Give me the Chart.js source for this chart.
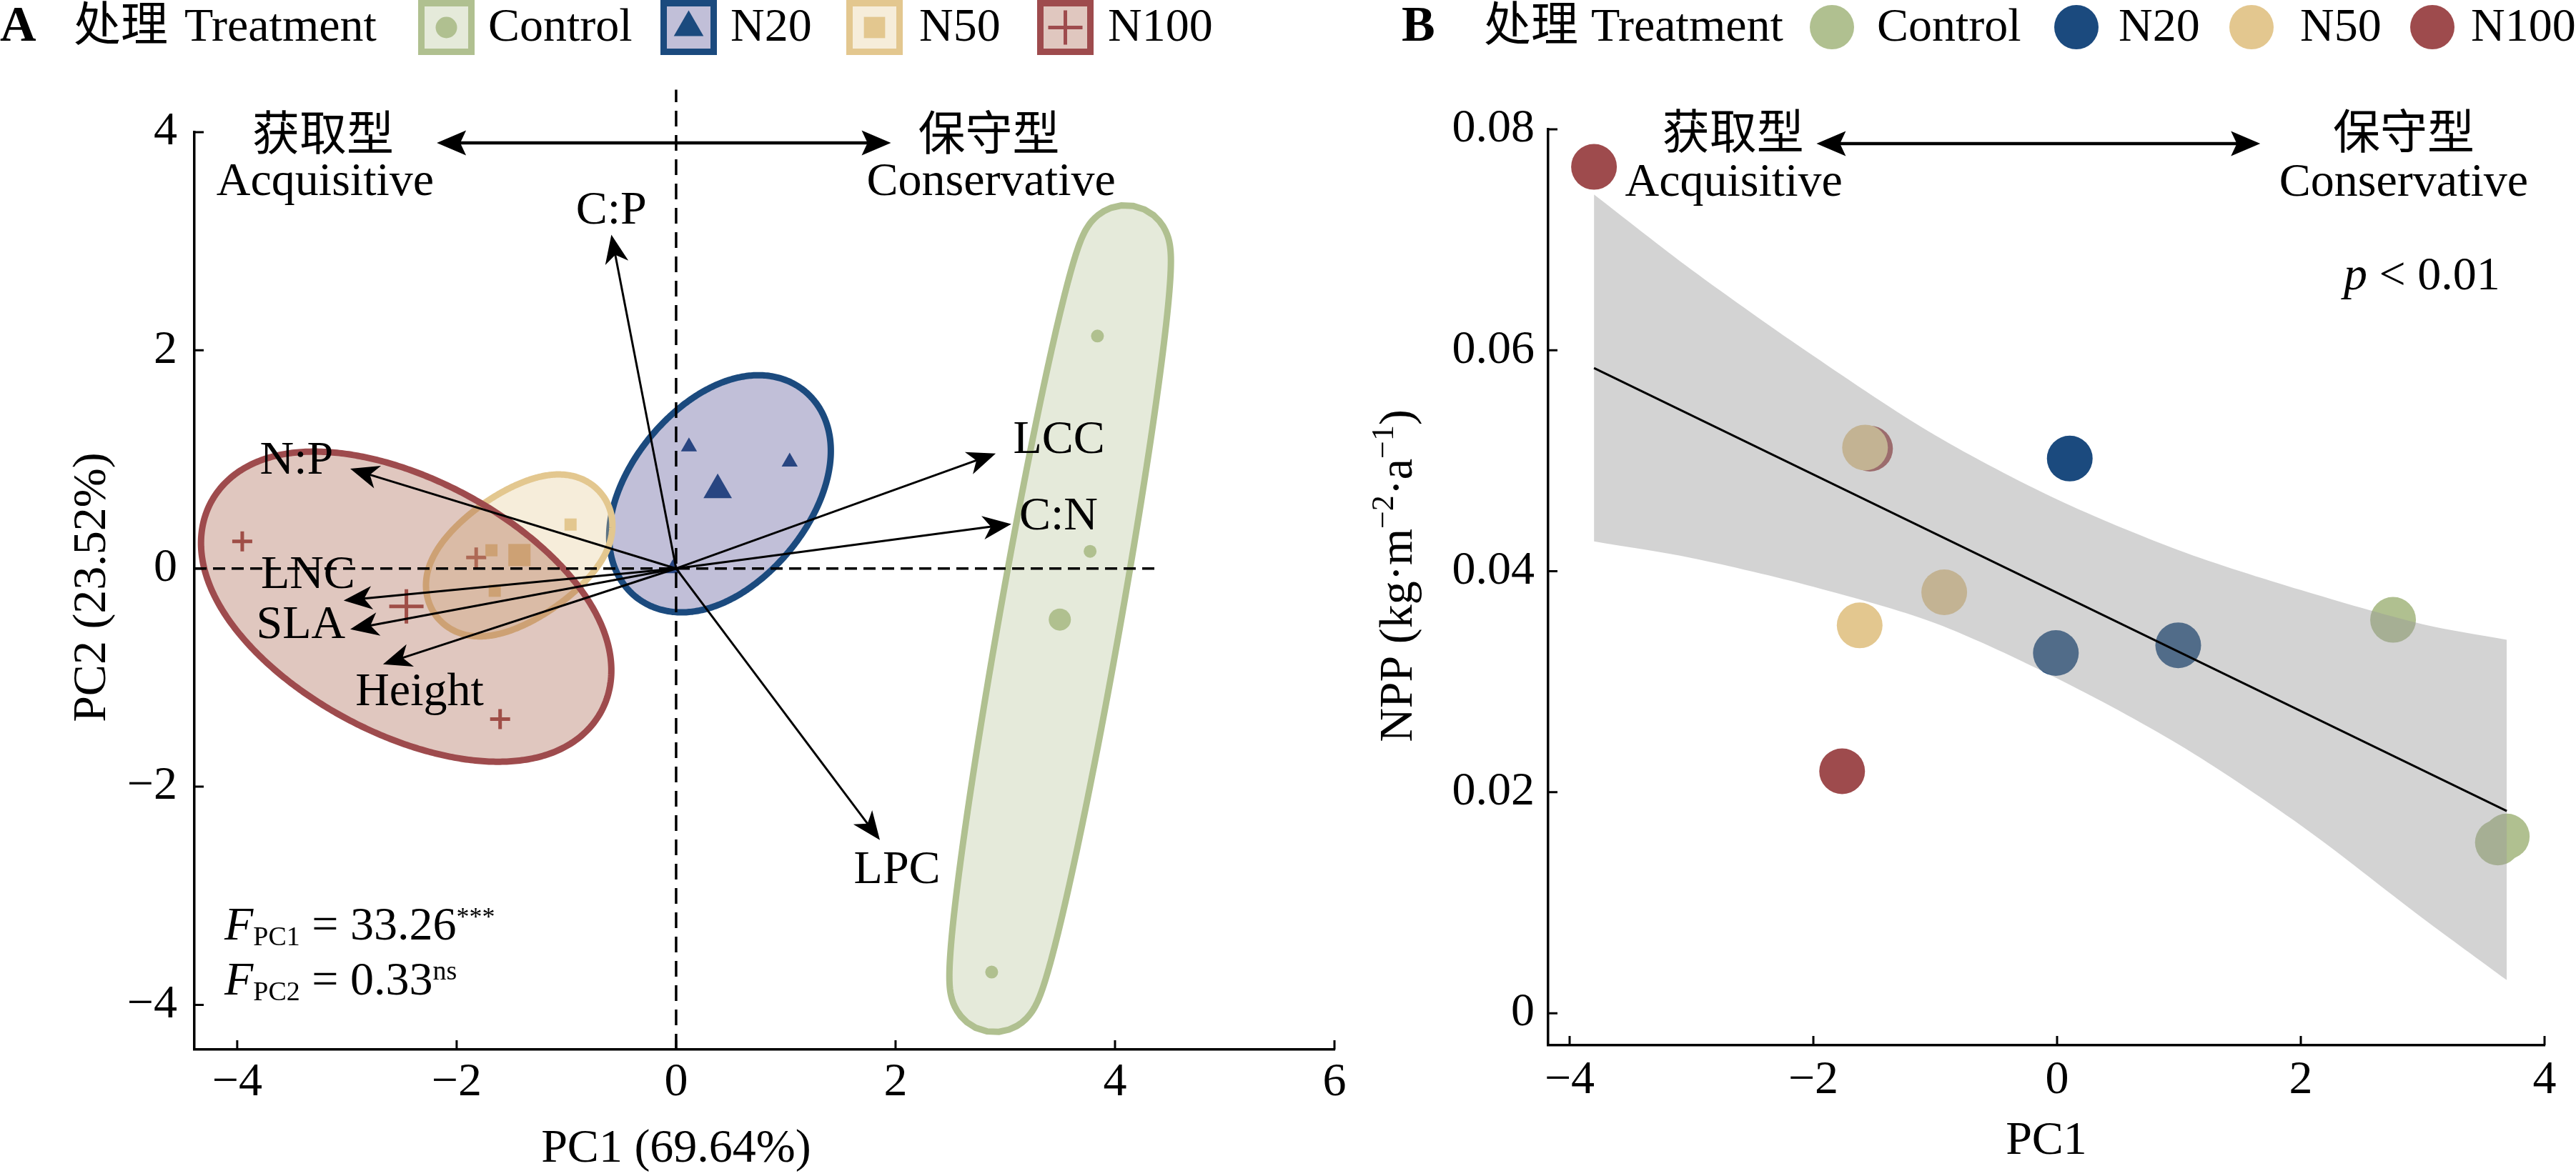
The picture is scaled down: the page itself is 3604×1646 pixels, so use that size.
<!DOCTYPE html>
<html><head><meta charset="utf-8">
<script src="https://cdn.jsdelivr.net/npm/chart.js@4.4.1/dist/chart.umd.min.js"></script>
<style>
html,body{margin:0;padding:0;background:#fff;width:3604px;height:1646px;overflow:hidden}
#wa{position:absolute;left:0;top:0;width:1900px;height:1646px}
#wb{position:absolute;left:1900px;top:0;width:1704px;height:1646px}
canvas{display:block}
</style></head><body>
<div id="wa"><canvas id="ca"></canvas></div>
<div id="wb"><canvas id="cb"></canvas></div>
<script>
// ---------------- DATA ----------------
const groups = ['Control', 'N20', 'N50', 'N100'];
const groupColors = ['#b0c090', '#1b4a7e', '#e3c78f', '#9e4b4d'];
const groupFills = ['#b0c090', '#433d89', '#e3c78f', '#a1553c'];

// Panel A: PCA sample scores
const ctrlPC1 = [3.84, 3.773, 2.876];
const ctrlPC2 = [2.131, 0.157, -3.70];
const n20PC1 = [0.117, 1.035, -0.03];
const n20PC2 = [1.116, 0.978, 0.0];
const n50PC1 = [-0.962, -1.683, -1.653];
const n50PC2 = [0.403, 0.167, -0.204];
const n100PC1 = [-3.954, -1.822, -1.604];
const n100PC2 = [0.248, 0.101, -1.381];
// group centroids (Control, N20, N50, N100)
const centroidPC1 = [3.497, 0.379, -1.428, -2.458];
const centroidPC2 = [-0.468, 0.72, 0.123, -0.347];

// Panel A: trait loadings (arrow tips)
const traitNames = ['C:P', 'N:P', 'LNC', 'SLA', 'Height', 'LCC', 'C:N', 'LPC'];
const traitPC1 = [-0.59, -2.97, -3.03, -2.97, -2.671, 2.913, 3.055, 1.857];
const traitPC2 = [3.06, 0.915, -0.293, -0.557, -0.878, 1.055, 0.408, -2.49];
// label anchors for trait names
const traitLabelPC1 = [-0.591, -3.459, -3.355, -3.42, -2.338, 3.49, 3.485, 2.014];
const traitLabelPC2 = [3.273, 0.981, -0.067, -0.525, -1.141, 1.171, 0.47, -2.771];

// Panel A: group ellipses (core ellipse, expanded outward)
const ellipseCX = [3.50, 0.40, -1.43, -2.46];
const ellipseCY = [-0.46, 0.685, 0.12, -0.35];
const ellipseA = [3.45, 0.826, 0.548, 1.63];
const ellipseB = [0.16, 0.43, 0.183, 0.77];
const ellipseAngle = [80, 50.7, 35.3, -28.4];
const ellipseExpand = 0.39;

// Panel B: PC1 vs NPP
const bCtrlPC1 = [2.757, 3.617, 3.69];
const bCtrlNPP = [0.0356, 0.01545, 0.0160];
const bN20PC1 = [0.104, -0.01, 0.994];
const bN20NPP = [0.0502, 0.0326, 0.0333];
const bN50PC1 = [-1.576, -0.926, -1.62];
const bN50NPP = [0.0512, 0.0381, 0.0351];
const bN100PC1 = [-3.80, -1.535, -1.764];
const bN100NPP = [0.0766, 0.0511, 0.0219];
const fitPC1 = [-3.80, 3.69];
const fitNPP = [0.0584, 0.0183];
const bandPC1 = [-3.8, -3, -2, -1, 0, 1, 2, 3, 3.69];
const bandUpper = [0.0741, 0.0673, 0.0595, 0.0523, 0.0465, 0.0419, 0.0383, 0.0352, 0.0338];
const bandLower = [0.0427, 0.0412, 0.0386, 0.0353, 0.0303, 0.0243, 0.0170, 0.0086, 0.0030];

// tick labels
const xTicksA = [-4, -2, 0, 2, 4, 6];
const yTicksA = [-4, -2, 0, 2, 4];
const xTicksB = [-4, -2, 0, 2, 4];
const yTicksB = [0, 0.02, 0.04, 0.06, 0.08];

// ---------------- HELPERS ----------------
const SERIF = '"Liberation Serif", "Times New Roman", serif';
const CJK = '"Noto Sans CJK SC", "Noto Sans CJK JP", sans-serif';
const FS = 66;
function rgba(hex, a) { const n = parseInt(hex.slice(1), 16); return `rgba(${n >> 16},${(n >> 8) & 255},${n & 255},${a})`; }
function pts(xs, ys) { return xs.map((x, i) => ({ x: x, y: ys[i] })); }
function fmtNum(v) { return v < 0 ? '\u2212' + Math.abs(v) : String(v); }

function drawMarker(ctx, style, x, y, r, color, lw) {
  ctx.save();
  ctx.fillStyle = color; ctx.strokeStyle = color; ctx.lineWidth = lw || 5;
  ctx.beginPath();
  if (style === 'circle') { ctx.arc(x, y, r, 0, 2 * Math.PI); ctx.fill(); }
  else if (style === 'triangle') {
    for (let k = 0; k < 3; k++) { const a = k * 2 * Math.PI / 3; const px = x + Math.sin(a) * r, py = y - Math.cos(a) * r; if (k) ctx.lineTo(px, py); else ctx.moveTo(px, py); }
    ctx.closePath(); ctx.fill();
  } else if (style === 'rect') { const s = r * Math.SQRT1_2; ctx.rect(x - s, y - s, 2 * s, 2 * s); ctx.fill(); }
  else if (style === 'cross') { ctx.moveTo(x - r, y); ctx.lineTo(x + r, y); ctx.moveTo(x, y - r); ctx.lineTo(x, y + r); ctx.stroke(); }
  ctx.restore();
}
function arrowHead(ctx, tx, ty, ux, uy, len, half, notch) {
  const bx = tx + ux * len, by = ty + uy * len, px = -uy, py = ux;
  ctx.beginPath();
  ctx.moveTo(tx, ty);
  ctx.lineTo(bx + px * half, by + py * half);
  ctx.lineTo(tx + ux * len * notch, ty + uy * len * notch);
  ctx.lineTo(bx - px * half, by - py * half);
  ctx.closePath(); ctx.fill();
}
function drawArrow(ctx, x0, y0, x1, y1, lw, len, half, notch) {
  const dx = x1 - x0, dy = y1 - y0, L = Math.hypot(dx, dy), ux = -dx / L, uy = -dy / L;
  ctx.lineWidth = lw; ctx.beginPath(); ctx.moveTo(x0, y0);
  ctx.lineTo(x1 + ux * len * notch * 0.9, y1 + uy * len * notch * 0.9); ctx.stroke();
  arrowHead(ctx, x1, y1, ux, uy, len, half, notch);
}
function drawDoubleArrow(ctx, x0, y, x1, lw, len, half, notch) {
  ctx.lineWidth = lw; ctx.beginPath(); ctx.moveTo(x0 + len * 0.6, y); ctx.lineTo(x1 - len * 0.6, y); ctx.stroke();
  arrowHead(ctx, x0, y, 1, 0, len, half, notch);
  arrowHead(ctx, x1, y, -1, 0, len, half, notch);
}
function richWidth(ctx, parts) { let w = 0; for (const p of parts) { ctx.font = p.font; w += ctx.measureText(p.t).width; } return w; }
function drawRich(ctx, parts, x, y) {
  let cx = x; ctx.textAlign = 'left'; ctx.textBaseline = 'alphabetic';
  for (const p of parts) { ctx.font = p.font; ctx.fillText(p.t, cx, y + (p.dy || 0)); cx += ctx.measureText(p.t).width; }
}
function text(ctx, t, x, y, font, align, base) {
  ctx.font = font; ctx.textAlign = align || 'center'; ctx.textBaseline = base || 'middle'; ctx.fillText(t, x, y);
}
function drawInwardTicks(chart) {
  const { ctx, chartArea, scales: { x, y } } = chart;
  ctx.save(); ctx.strokeStyle = '#000'; ctx.lineWidth = 3; ctx.beginPath();
  x.ticks.forEach(t => { const px = x.getPixelForValue(t.value); ctx.moveTo(px, chartArea.bottom); ctx.lineTo(px, chartArea.bottom - 13); });
  y.ticks.forEach(t => { const py = y.getPixelForValue(t.value); ctx.moveTo(chartArea.left, py); ctx.lineTo(chartArea.left + 13, py); });
  ctx.stroke(); ctx.restore();
}
function makeScale(min, max, tickArr, fit, isX, pad, fmt) {
  const s = {
    type: 'linear', min: min, max: max,
    afterBuildTicks: sc => { sc.ticks = tickArr.map(v => ({ value: v })); },
    grid: { display: false, drawTicks: false },
    border: { display: true, color: '#000', width: 3.5 },
    ticks: { font: { family: SERIF, size: FS, lineHeight: 1 }, color: '#000', padding: pad, maxRotation: 0, autoSkip: false, callback: fmt }
  };
  if (isX) s.afterFit = sc => { sc.height = fit; }; else s.afterFit = sc => { sc.width = fit; };
  return s;
}

// ---------------- PANEL A ----------------
function drawShape(chart, i) {
  const { ctx, scales: { x: xs, y: ys } } = chart;
  const th = ellipseAngle[i] * Math.PI / 180, N = 480, core = [];
  for (let k = 0; k < N; k++) {
    const t = 2 * Math.PI * k / N;
    const dx = ellipseA[i] * Math.cos(th) * Math.cos(t) - ellipseB[i] * Math.sin(th) * Math.sin(t);
    const dy = ellipseA[i] * Math.sin(th) * Math.cos(t) + ellipseB[i] * Math.cos(th) * Math.sin(t);
    core.push([xs.getPixelForValue(ellipseCX[i] + dx), ys.getPixelForValue(ellipseCY[i] + dy)]);
  }
  const cx = xs.getPixelForValue(ellipseCX[i]), cy = ys.getPixelForValue(ellipseCY[i]);
  const d = ellipseExpand * Math.abs(xs.getPixelForValue(1) - xs.getPixelForValue(0));
  ctx.beginPath();
  for (let k = 0; k < N; k++) {
    const p = core[(k - 1 + N) % N], n = core[(k + 1) % N];
    let tx = n[0] - p[0], ty = n[1] - p[1]; const L = Math.hypot(tx, ty) || 1;
    let nx = ty / L, ny = -tx / L;
    if ((core[k][0] - cx) * nx + (core[k][1] - cy) * ny < 0) { nx = -nx; ny = -ny; }
    const X = core[k][0] + nx * d, Y = core[k][1] + ny * d;
    if (k) ctx.lineTo(X, Y); else ctx.moveTo(X, Y);
  }
  ctx.closePath();
  ctx.fillStyle = rgba(groupFills[i], 0.33); ctx.fill();
  ctx.strokeStyle = groupColors[i]; ctx.lineWidth = 9; ctx.stroke();
}

const styleA = ['circle', 'triangle', 'rect', 'cross'];
const smallR = [9, 13, 12, 14];
const bigR = [15.5, 23, 22, 24];
const groupPC1 = [ctrlPC1, n20PC1, n50PC1, n100PC1];
const groupPC2 = [ctrlPC2, n20PC2, n50PC2, n100PC2];
const dsA = [];
groups.forEach((g, i) => {
  const base = { pointStyle: styleA[i], backgroundColor: groupColors[i], borderColor: groupColors[i], borderWidth: i === 3 ? 5 : 0, pointHoverRadius: 0 };
  dsA.push(Object.assign({ label: g, data: pts(groupPC1[i], groupPC2[i]), pointRadius: smallR[i] }, base));
  dsA.push(Object.assign({ label: g + ' centroid', data: [{ x: centroidPC1[i], y: centroidPC2[i] }], pointRadius: bigR[i] }, base));
});

const pluginA = {
  id: 'panelA',
  afterDatasetsDraw(chart) {
    const { ctx, chartArea, scales: { x: xs, y: ys } } = chart;
    ctx.save();
    for (let i = 0; i < 4; i++) drawShape(chart, i);
    // reference dashed lines
    ctx.strokeStyle = '#000'; ctx.lineWidth = 3.5;
    ctx.setLineDash([22, 12]); ctx.beginPath();
    ctx.moveTo(xs.getPixelForValue(0), chartArea.bottom); ctx.lineTo(xs.getPixelForValue(0), ys.getPixelForValue(4.39)); ctx.stroke();
    ctx.setLineDash([17, 9]); ctx.beginPath();
    ctx.moveTo(chartArea.left, ys.getPixelForValue(0)); ctx.lineTo(xs.getPixelForValue(4.38), ys.getPixelForValue(0)); ctx.stroke();
    ctx.setLineDash([]);
    // loadings
    ctx.fillStyle = '#000'; ctx.strokeStyle = '#000';
    const ox = xs.getPixelForValue(0), oy = ys.getPixelForValue(0);
    traitNames.forEach((n, i) => {
      drawArrow(ctx, ox, oy, xs.getPixelForValue(traitPC1[i]), ys.getPixelForValue(traitPC2[i]), 3, 40, 16.5, 0.72);
      text(ctx, n, xs.getPixelForValue(traitLabelPC1[i]), ys.getPixelForValue(traitLabelPC2[i]), `${FS}px ${SERIF}`);
    });
    // strategy annotation
    text(ctx, '获取型', xs.getPixelForValue(-3.218), ys.getPixelForValue(4.0), `${FS}px ${CJK}`);
    text(ctx, 'Acquisitive', xs.getPixelForValue(-3.198), ys.getPixelForValue(3.538), `${FS}px ${SERIF}`);
    text(ctx, '保守型', xs.getPixelForValue(2.851), ys.getPixelForValue(4.0), `${FS}px ${CJK}`);
    text(ctx, 'Conservative', xs.getPixelForValue(2.871), ys.getPixelForValue(3.538), `${FS}px ${SERIF}`);
    drawDoubleArrow(ctx, xs.getPixelForValue(-2.181), ys.getPixelForValue(3.902), xs.getPixelForValue(1.958), 4.5, 41, 17.5, 0.8);
    // F statistics
    const sub = `38px ${SERIF}`, main = `${FS}px ${SERIF}`, it = `italic ${FS}px ${SERIF}`;
    drawRich(ctx, [{ t: 'F', font: it }, { t: 'PC1', font: sub, dy: 8 }, { t: ' = 33.26', font: main }, { t: '***', font: `36px ${SERIF}`, dy: -20 }], 314, 1315);
    drawRich(ctx, [{ t: 'F', font: it }, { t: 'PC2', font: sub, dy: 8 }, { t: ' = 0.33', font: main }, { t: 'ns', font: sub, dy: -21 }], 314, 1392);
    ctx.restore();
  },
  afterDraw(chart) {
    const { ctx } = chart;
    drawInwardTicks(chart);
    ctx.save(); ctx.fillStyle = '#000';
    // axis titles
    text(ctx, 'PC1 (69.64%)', 946, 1609, `${FS}px ${SERIF}`);
    ctx.save(); ctx.translate(130, 822); ctx.rotate(-Math.PI / 2);
    text(ctx, 'PC2 (23.52%)', 0, 0, `${FS}px ${SERIF}`); ctx.restore();
    // legend
    text(ctx, 'A', 0, 57, `bold 70px ${SERIF}`, 'left', 'alphabetic');
    text(ctx, '处理', 103, 57, `${FS}px ${CJK}`, 'left', 'alphabetic');
    text(ctx, 'Treatment', 258, 57, `${FS}px ${SERIF}`, 'left', 'alphabetic');
    const boxX = [585, 924, 1184, 1451], txtX = [683, 1022, 1286, 1550], legR = [15, 24, 21, 24];
    groups.forEach((g, i) => {
      ctx.fillStyle = '#fff'; ctx.fillRect(boxX[i], 0, 79, 77);
      ctx.fillStyle = rgba(groupFills[i], 0.33); ctx.fillRect(boxX[i], 0, 79, 77);
      ctx.strokeStyle = groupColors[i]; ctx.lineWidth = 9; ctx.strokeRect(boxX[i] + 4.5, 4.5, 70, 68);
      drawMarker(ctx, styleA[i], boxX[i] + 39.5, 38.5, legR[i], groupColors[i], 5);
      ctx.fillStyle = '#000';
      text(ctx, g, txtX[i], 57, `${FS}px ${SERIF}`, 'left', 'alphabetic');
    });
    ctx.restore();
  }
};

new Chart(document.getElementById('ca'), {
  type: 'scatter',
  data: { datasets: dsA },
  options: {
    responsive: true, maintainAspectRatio: false, animation: false, events: [],
    layout: { padding: { left: 0, right: 33, top: 185, bottom: 0 } },
    plugins: { legend: { display: false }, tooltip: { enabled: false } },
    scales: {
      x: makeScale(-4.39, 6, xTicksA, 177, true, 14, fmtNum),
      y: makeScale(-4.41, 4, yTicksA, 272, false, 24, fmtNum)
    }
  },
  plugins: [pluginA]
});

// ---------------- PANEL B ----------------
const bPC1 = [bCtrlPC1, bN20PC1, bN50PC1, bN100PC1];
const bNPP = [bCtrlNPP, bN20NPP, bN50NPP, bN100NPP];
const pointOrder = [3, 3, 3, 4];
const dsB = [
  { type: 'line', label: 'fit', data: pts(fitPC1, fitNPP), borderColor: '#000', borderWidth: 3, pointRadius: 0, fill: false, order: 1 },
  { type: 'line', label: 'CI lower', data: pts(bandPC1, bandLower), borderColor: 'rgba(0,0,0,0)', borderWidth: 1, pointRadius: 0, tension: 0.3, fill: false, order: 2 },
  { type: 'line', label: 'CI upper', data: pts(bandPC1, bandUpper), borderColor: 'rgba(0,0,0,0)', borderWidth: 1, pointRadius: 0, tension: 0.3, fill: { target: 1 }, backgroundColor: 'rgba(153,153,153,0.43)', order: 2 }
];
groups.forEach((g, i) => dsB.push({ label: g, data: pts(bPC1[i], bNPP[i]), pointStyle: 'circle', pointRadius: 32, pointHoverRadius: 0, backgroundColor: groupColors[i], borderWidth: 0, order: pointOrder[i] }));

const pluginB = {
  id: 'panelB',
  afterDatasetsDraw(chart) {
    const { ctx, scales: { x: xs, y: ys } } = chart;
    ctx.save(); ctx.fillStyle = '#000'; ctx.strokeStyle = '#000';
    text(ctx, '获取型', xs.getPixelForValue(-2.659), ys.getPixelForValue(0.0799), `${FS}px ${CJK}`);
    text(ctx, 'Acquisitive', xs.getPixelForValue(-2.653), ys.getPixelForValue(0.0751), `${FS}px ${SERIF}`);
    text(ctx, '保守型', xs.getPixelForValue(2.844), ys.getPixelForValue(0.0799), `${FS}px ${CJK}`);
    text(ctx, 'Conservative', xs.getPixelForValue(2.844), ys.getPixelForValue(0.0751), `${FS}px ${SERIF}`);
    drawDoubleArrow(ctx, xs.getPixelForValue(-1.974), ys.getPixelForValue(0.0787), xs.getPixelForValue(1.667), 4.5, 41, 17.5, 0.8);
    drawRich(ctx, [{ t: 'p', font: `italic ${FS}px ${SERIF}` }, { t: ' < 0.01', font: `${FS}px ${SERIF}` }], 1379, 405);
    ctx.restore();
  },
  afterDraw(chart) {
    const { ctx } = chart;
    drawInwardTicks(chart);
    ctx.save(); ctx.fillStyle = '#000';
    text(ctx, 'PC1', 963, 1598, `${FS}px ${SERIF}`);
    ctx.save(); ctx.translate(53, 806); ctx.rotate(-Math.PI / 2);
    const m = `${FS}px ${SERIF}`, sp = `44px ${SERIF}`;
    const parts = [{ t: 'NPP (kg·m', font: m }, { t: '\u22122', font: sp, dy: -26 }, { t: '·a', font: m }, { t: '\u22121', font: sp, dy: -26 }, { t: ')', font: m }];
    const w = richWidth(ctx, parts);
    drawRich(ctx, parts, -w / 2, 22);
    ctx.restore();
    // legend
    text(ctx, 'B', 61, 57, `bold 70px ${SERIF}`, 'left', 'alphabetic');
    text(ctx, '处理', 176, 57, `${FS}px ${CJK}`, 'left', 'alphabetic');
    text(ctx, 'Treatment', 326, 57, `${FS}px ${SERIF}`, 'left', 'alphabetic');
    const cX = [663, 1005, 1250, 1503], tX = [726, 1064, 1318, 1557];
    groups.forEach((g, i) => {
      drawMarker(ctx, 'circle', cX[i], 38, 31, groupColors[i]);
      ctx.fillStyle = '#000';
      text(ctx, g, tX[i], 57, `${FS}px ${SERIF}`, 'left', 'alphabetic');
    });
    ctx.restore();
  }
};

new Chart(document.getElementById('cb'), {
  type: 'scatter',
  data: { datasets: dsB },
  options: {
    responsive: true, maintainAspectRatio: false, animation: false, events: [],
    layout: { padding: { left: 0, right: 44, top: 181, bottom: 0 } },
    plugins: { legend: { display: false }, tooltip: { enabled: false } },
    scales: {
      x: makeScale(-4.176, 4, xTicksB, 183, true, 17, fmtNum),
      y: makeScale(-0.0029, 0.08, yTicksB, 266, false, 19, v => v === 0 ? '0' : v.toFixed(2))
    }
  },
  plugins: [pluginB]
});
</script>
</body></html>
